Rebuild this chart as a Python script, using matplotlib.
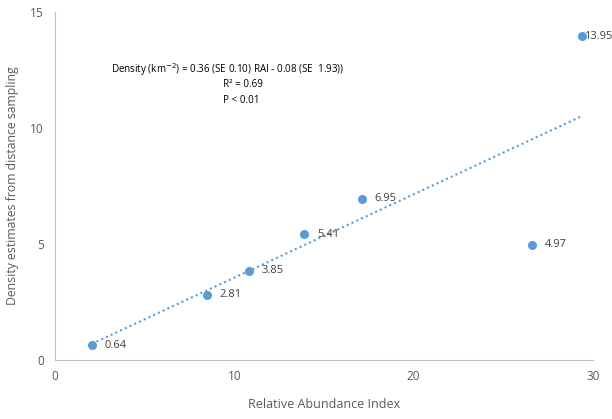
import numpy as np
import matplotlib
matplotlib.use('Agg')
import matplotlib.pyplot as plt

# data
rai = [2.05, 8.45, 10.8, 13.9, 17.1, 26.6, 29.4]
density = [0.64, 2.81, 3.85, 5.41, 6.95, 4.97, 13.95]
labels = ['0.64', '2.81', '3.85', '5.41', '6.95', '4.97', '13.95']
label_dx = [9.5, 9.5, 9.5, 9.5, 9.5, 9.5, 1.2]

blue = '#5B9BD5'
grey = '#595959'

plt.rcParams['font.family'] = ['Open Sans', 'DejaVu Sans']

fig = plt.figure(figsize=(6.12, 4.19), dpi=100)
ax = fig.add_axes([55 / 612, 1 - 360 / 419, 538 / 612, 348.3 / 419])

# linear trendline
slope, intercept = np.polyfit(rai, density, 1)
xs = np.array([min(rai), max(rai)])
ax.plot(xs, slope * xs + intercept, linestyle=(0, (1, 1.5)), color=blue, linewidth=1.5)

ax.scatter(rai, density, s=30, color=blue, zorder=3, clip_on=False)
for x, y, t, dx in zip(rai, density, labels, label_dx):
    ax.annotate(t, (x, y), xytext=(dx, 0), textcoords='offset points',
                va='center', ha='left', fontsize=8, color='#404040', zorder=4)

ax.set_xlim(0, 30)
ax.set_ylim(0, 15)
ax.set_xticks([0, 10, 20, 30])
ax.set_yticks([0, 5, 10, 15])
ax.tick_params(length=0, labelsize=8.5, labelcolor=grey)
ax.tick_params(axis='x', pad=7)
ax.tick_params(axis='y', pad=8)
for s in ['top', 'right']:
    ax.spines[s].set_visible(False)
for s in ['left', 'bottom']:
    ax.spines[s].set_color('#BFBFBF')
    ax.spines[s].set_linewidth(0.8)

ax.set_xlabel('Relative Abundance Index', fontsize=9, color=grey, labelpad=11)
ax.set_ylabel('Density estimates from distance sampling', fontsize=8.8, color=grey, labelpad=8)

ax.text(0.3216, 0.833, 'Density (km$^{-2}$) = 0.36 (SE 0.10) RAI - 0.08 (SE  1.93))',
        transform=ax.transAxes, ha='center', va='center', fontsize=7.1)
ax.text(0.3485, 0.790, 'R² = 0.69', transform=ax.transAxes, ha='center', va='center', fontsize=7.1)
ax.text(0.3457, 0.746, 'P < 0.01', transform=ax.transAxes, ha='center', va='center', fontsize=7.1)

fig.savefig('out.png', dpi=100)
